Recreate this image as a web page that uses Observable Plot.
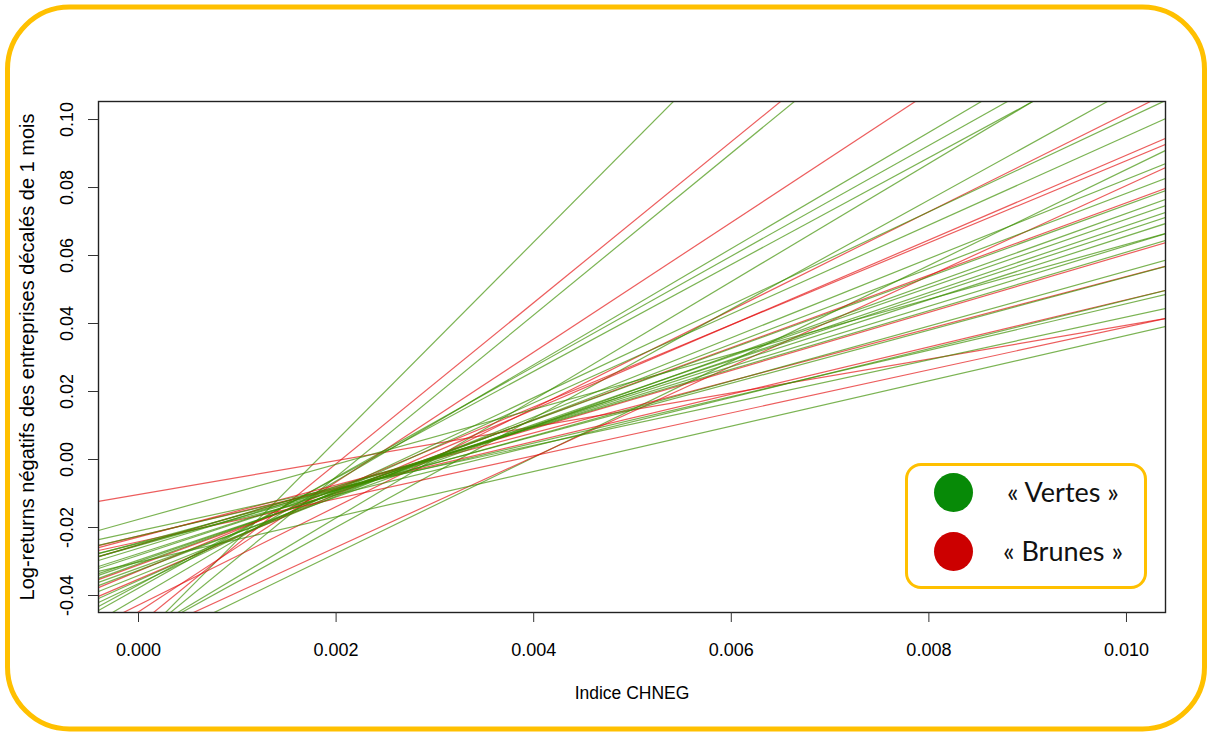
<!DOCTYPE html>
<html>
<head>
<meta charset="utf-8">
<script src="https://cdn.jsdelivr.net/npm/d3@7"></script>
<script src="https://cdn.jsdelivr.net/npm/@observablehq/plot@0.6"></script>
<style>
  html, body { margin: 0; padding: 0; background: #fff; }
  #wrap { position: relative; width: 1212px; height: 736px; overflow: hidden; }
  #wrap > svg.plot { position: absolute; left: 0; top: 0; }
  #border { position: absolute; left: 0; top: 0; pointer-events: none; }
  #legend { position: absolute; left: 905px; top: 463px; width: 236px; height: 120px;
    border: 3px solid #FFC000; border-radius: 16px; background: #fff; }
  .item { position: absolute; left: 0; width: 236px; height: 44px; }
  .dot { position: absolute; left: 26px; top: 3px; width: 39px; height: 39px; border-radius: 50%; }
  .lab { position: absolute; left: 70px; width: 170px; top: 0; line-height: 44px; text-align: center;
    font-family: Lato, "Open Sans", sans-serif; font-size: 27px; color: #111; }
</style>
</head>
<body>
<div id="wrap"></div>
<script>
// ---- data ----
const xTicks = [0, 0.002, 0.004, 0.006, 0.008, 0.010];
const yTicks = [-0.04, -0.02, 0.00, 0.02, 0.04, 0.06, 0.08, 0.10];
const groupNames = ["« Vertes »", "« Brunes »"];
const groupColors = ["#078a07", "#CC0000"];

// regression lines: fitted value at CHNEG = 0 and at CHNEG = 0.010
const vertesAt0   = [-0.0530, -0.0527, -0.0558, -0.0405, -0.0519, -0.0520, -0.0378, -0.0369, -0.0365, -0.0356,
                     -0.0341, -0.0326, -0.0319, -0.0300, -0.0296, -0.0282, -0.0277, -0.0261, -0.0176, -0.0253,
                     -0.0245, -0.0247, -0.0225, -0.0210, -0.0302, -0.0251, -0.0307];
const vertesAt010 = [ 0.2394,  0.1853,  0.0853,  0.1304,  0.1218,  0.1084,  0.1249,  0.1202,  0.1002,  0.0951,
                      0.0824,  0.0783,  0.0724,  0.0707,  0.0688,  0.0674,  0.0657,  0.0629,  0.0633,  0.0554,
                      0.0537,  0.0469,  0.0458,  0.0419,  0.0365,  0.0610,  0.0749];
const brunesAt0   = [-0.0103, -0.0486, -0.0448, -0.0524, -0.0428, -0.0352, -0.0328, -0.0310, -0.0251, -0.0228,
                     -0.0225, -0.0242];
const brunesAt010 = [ 0.0395,  0.1882,  0.1461,  0.0806,  0.1018,  0.0895,  0.0879,  0.0755,  0.0604,  0.0538,
                      0.0470,  0.0390];

const xDomain = [-0.000405, 0.010395];
const yDomain = [-0.0450, 0.1053];

// ---- build line table (interleaved, like successive abline calls) ----
const rows = [];
const n = Math.max(vertesAt0.length, brunesAt0.length);
for (let i = 0; i < n; i++) {
  if (i < vertesAt0.length) rows.push({g: 0, a: vertesAt0[i], b: vertesAt010[i]});
  if (i < brunesAt0.length) rows.push({g: 1, a: brunesAt0[i], b: brunesAt010[i]});
}
const at = (r, x) => r.a + (r.b - r.a) / 0.010 * x;
const lineStroke = ["#3d8f00", "#e31010"];

const fmtY = d => d.toFixed(2);
const fmtX = d => d.toFixed(3);

const chart = Plot.plot({
  width: 1212,
  height: 736,
  marginLeft: 98,
  marginRight: 47,
  marginTop: 101,
  marginBottom: 124,
  x: {domain: xDomain},
  y: {domain: yDomain},
  style: {fontFamily: "'Liberation Sans', Arial, sans-serif", fontSize: "17px", background: "transparent", color: "#000"},
  marks: [
    Plot.link(rows, {
      x1: () => xDomain[0], y1: r => at(r, xDomain[0]),
      x2: () => xDomain[1], y2: r => at(r, xDomain[1]),
      stroke: r => lineStroke[r.g], strokeOpacity: 0.68, strokeWidth: 1.2, clip: true
    }),
    Plot.frame({stroke: "#222", strokeWidth: 1.4}),
    Plot.axisX({ticks: xTicks, tickSize: 10, tickPadding: 21, tickFormat: fmtX, fontSize: 18, label: null, stroke: "#333"}),
    Plot.axisY({ticks: yTicks, tickSize: 10, tickFormat: () => "", label: null, stroke: "#333"}),
    Plot.text(yTicks, {x: () => xDomain[0], y: d => d, text: fmtY, rotate: -90, dx: -31, fontSize: 18, textAnchor: "middle"}),
    Plot.text(["Log-returns négatifs des entreprises décalés de 1 mois"], {frameAnchor: "left", text: d => d, rotate: -90, dx: -71, fontSize: 20, textAnchor: "middle"}),
    Plot.text(["Indice CHNEG"], {frameAnchor: "bottom", text: d => d, dy: 86, fontSize: 17.5, textAnchor: "middle"})
  ]
});
chart.classList.add("plot");
const wrap = document.getElementById("wrap");
wrap.appendChild(chart);

// outer rounded frame
const border = d3.create("svg").attr("id", "border").attr("width", 1212).attr("height", 736);
border.append("rect").attr("x", 7.5).attr("y", 7).attr("width", 1197).attr("height", 722)
  .attr("rx", 62).attr("ry", 62).attr("fill", "none").attr("stroke", "#FFC000").attr("stroke-width", 5);
wrap.appendChild(border.node());

// legend
const legend = d3.select(wrap).append("div").attr("id", "legend");
groupNames.forEach((name, i) => {
  const it = legend.append("div").attr("class", "item").style("top", (i === 0 ? 4 : 63) + "px");
  it.append("div").attr("class", "dot").style("background", groupColors[i]);
  it.append("div").attr("class", "lab").text(name);
});
</script>
</body>
</html>
